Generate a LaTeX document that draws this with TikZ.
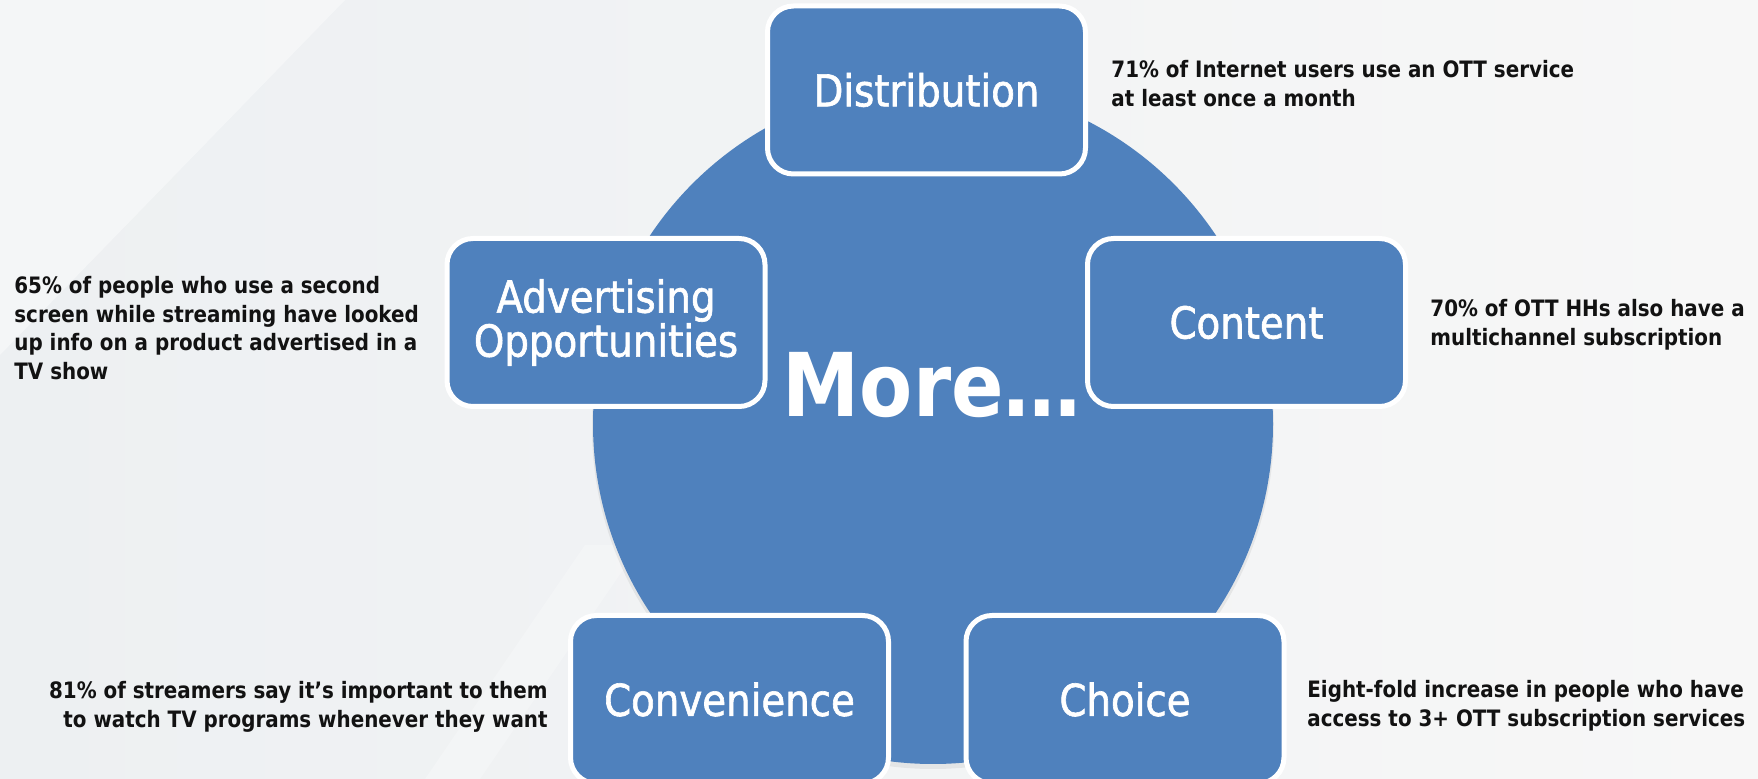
\documentclass[tikz,border=0pt]{standalone}
\usepackage{fontspec}
\setmainfont{DejaVu Sans}[FakeStretch=0.88]
\newfontfamily\cardfont{DejaVu Sans}[FakeStretch=0.88, FakeBold=1.4]
\usetikzlibrary{positioning}
\definecolor{boxBlue}{RGB}{79,129,189}
\definecolor{bgGray}{RGB}{237,240,242}
\definecolor{bgLight}{RGB}{247,247,247}
\definecolor{noteInk}{RGB}{18,18,18}

\begin{document}
\begin{tikzpicture}[x=0.5pt, y=-0.5pt,
    card/.style={draw=white, line width=2.5pt, fill=boxBlue, rounded corners=13pt,
      minimum width=159pt, minimum height=84pt, inner sep=0pt,
      text=white, align=center, font=\cardfont\fontsize{22}{22}\selectfont},
    note/.style={inner sep=0pt, text=noteInk, font=\fontsize{11.3}{14.3}\selectfont\bfseries},
    hub/.style={circle, fill=boxBlue, minimum size=340pt, inner sep=0pt}]
    \useasboundingbox (0,0) rectangle (1758,779);
    \clip (0,0) rectangle (1758,779);
    % --- background ---
    \shade[left color=bgGray, right color=bgLight] (0,0) rectangle (1758,779);
    \fill[white, opacity=0.4] (0,0) -- (345,0) -- (0,355) -- cycle;
    \fill[white, opacity=0.25] (585,545) -- (640,545) -- (480,779) -- (425,779) -- cycle;
    % --- hub ---
    \fill[black, opacity=0.06] (933,428) circle (341);
    \node[hub] (hub) at (933,424) {};
    \node[anchor=base, inner sep=0pt, text=white, font=\fontsize{44}{44}\selectfont\bfseries]
      (more) at (932,417) {More…};
    % --- cards ---
    \node[card] (dist)    at (926.5,90)    {Distribution};
    \node[card] (content) at (1246.5,322.5) {Content};
    \node[card] (advert)  at (606,322.5)   {Advertising\\Opportunities};
    \node[card] (conv)    at (729.5,699.5) {Convenience};
    \node[card] (choice)  at (1125,699.5)  {Choice};
    % --- notes ---
    \node[note, anchor=north west, align=left] (distNote) at (1111,60)
      {71\% of Internet users use an OTT service\\at least once a month};
    \node[note, anchor=north west, align=left] (contentNote) at (1430,299)
      {70\% of OTT HHs also have a\\multichannel subscription};
    \node[note, anchor=north west, align=left] (advertNote) at (14,276)
      {65\% of people who use a second\\screen while streaming have looked\\up info on a product advertised in a\\TV show};
    \node[note, anchor=north east, align=right] (convNote) at (548,681)
      {81\% of streamers say it’s important to them\\to watch TV programs whenever they want};
    \node[note, anchor=north west, align=left] (choiceNote) at (1307,680)
      {Eight-fold increase in people who have\\access to 3+ OTT subscription services};
\end{tikzpicture}
\end{document}
